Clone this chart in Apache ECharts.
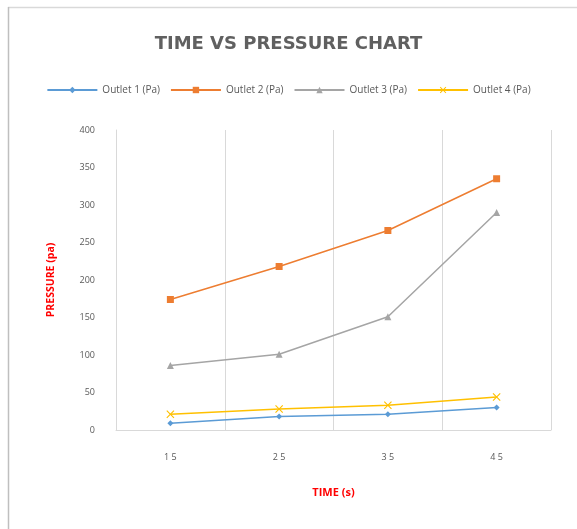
<!DOCTYPE html>
<html><head><meta charset="utf-8">
<script src="https://cdn.jsdelivr.net/npm/echarts@6/dist/echarts.min.js"></script>
<style>html,body{margin:0;padding:0;background:#fff}#c{width:577px;height:529px}</style>
</head><body><div id="c"></div>
<script>
const categories = ["1 5", "2 5", "3 5", "4 5"];
const outlet1 = [9, 18, 21, 30];
const outlet2 = [174, 218, 266, 335];
const outlet3 = [86, 101, 151, 290];
const outlet4 = [21, 28, 33, 44];
const seriesNames = ["Outlet 1 (Pa)", "Outlet 2 (Pa)", "Outlet 3 (Pa)", "Outlet 4 (Pa)"];
const yTicks = [0, 400, 50];

const colors = ['#5b9bd5', '#ed7d31', '#a5a5a5', '#ffc000'];
const xPath = 'path://M0,1L1,0L5,4L9,0L10,1L6,5L10,9L9,10L5,6L1,10L0,9L4,5Z';
const symbols = ['diamond', 'rect', 'triangle', xPath];
const sizes = [6, 7, 7, 8];
const data = [outlet1, outlet2, outlet3, outlet4];

const chart = echarts.init(document.getElementById('c'));
chart.setOption({
  animation: false,
  color: colors,
  graphic: [
    { type: 'line', shape: { x1: 8, y1: 7.5, x2: 577, y2: 7.5 }, style: { stroke: '#d9d9d9', lineWidth: 1.5 } },
    { type: 'line', shape: { x1: 8.5, y1: 7, x2: 8.5, y2: 529 }, style: { stroke: '#bfbfbf', lineWidth: 1.5 } }
  ],
  title: {
    text: 'TIME VS PRESSURE CHART',
    left: 'center', top: 30,
    textStyle: { fontFamily: 'DejaVu Sans', fontSize: 18, fontWeight: 'bold', color: '#606060' }
  },
  legend: {
    top: 80, left: 'center',
    itemWidth: 50, itemHeight: 8, itemGap: 10,
    textStyle: { fontFamily: 'Open Sans', fontSize: 10, color: '#595959' },
    data: seriesNames
  },
  grid: { left: 116, right: 26, top: 130, bottom: 99 },
  xAxis: {
    type: 'category', data: categories, boundaryGap: true,
    name: 'TIME (s)', nameLocation: 'middle', nameGap: 57,
    nameTextStyle: { color: '#ff0000', fontSize: 11, fontWeight: 'bold', fontFamily: 'Open Sans' },
    axisLine: { lineStyle: { color: '#d9d9d9' } },
    axisTick: { show: false },
    axisLabel: { margin: 23, color: '#595959', fontSize: 9, fontFamily: 'Open Sans' },
    splitLine: { show: true, lineStyle: { color: '#d9d9d9' } }
  },
  yAxis: {
    type: 'value', min: yTicks[0], max: yTicks[1], interval: yTicks[2],
    name: 'PRESSURE (pa)', nameLocation: 'middle', nameGap: 59, nameRotate: 90,
    nameTextStyle: { color: '#ff0000', fontSize: 10.5, fontWeight: 'bold', fontFamily: 'Open Sans' },
    axisLine: { show: true, lineStyle: { color: '#d9d9d9' } },
    axisTick: { show: false },
    axisLabel: { margin: 21, color: '#595959', fontSize: 9, fontFamily: 'Open Sans' },
    splitLine: { show: false }
  },
  series: seriesNames.map((n, i) => ({
    name: n, type: 'line', data: data[i],
    symbol: symbols[i], symbolSize: sizes[i], showAllSymbol: true,
    lineStyle: { width: 1.5, color: colors[i] },
    itemStyle: { color: colors[i] }
  }))
});
</script></body></html>
